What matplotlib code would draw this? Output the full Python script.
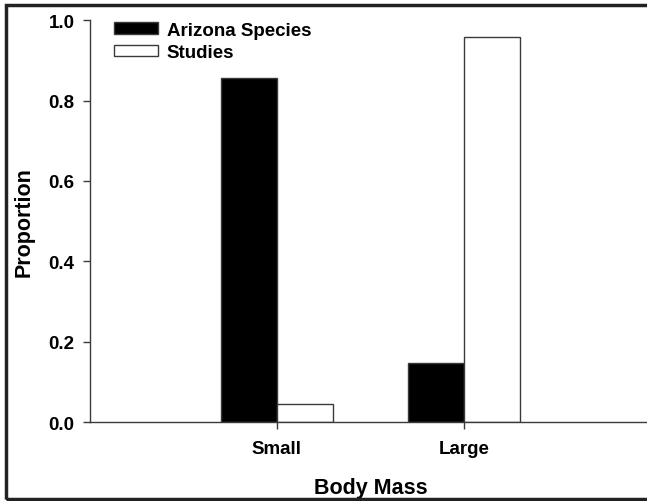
import matplotlib.pyplot as plt
from matplotlib.patches import Rectangle
import numpy as np

# data
categories = ["Small", "Large"]
arizona_species = [0.855, 0.147]
studies = [0.045, 0.957]
yticks = [0.0, 0.2, 0.4, 0.6, 0.8, 1.0]

plt.rcParams["font.family"] = ["Liberation Sans", "DejaVu Sans"]
plt.rcParams["font.weight"] = "bold"

fig = plt.figure(figsize=(6.47, 5.02), dpi=100)
ax = fig.add_axes([0.139, 0.157, 0.867, 0.801])

x = np.arange(1, len(categories) + 1)
width = 0.30
edge = "#3a3a3a"

ax.bar(x - width / 2, arizona_species, width, color="black",
       edgecolor=edge, linewidth=1, label="Arizona Species")
ax.bar(x + width / 2, studies, width, color="white",
       edgecolor=edge, linewidth=1, label="Studies")

ax.set_xlim(0, 3)
ax.set_ylim(0, 1.0)
ax.set_xticks(x)
ax.set_xticklabels(categories)
ax.set_yticks(yticks)
ax.set_yticklabels([f"{v:.1f}" for v in yticks])

for side in ("top", "right"):
    ax.spines[side].set_visible(False)
for side in ("left", "bottom"):
    ax.spines[side].set_color(edge)
    ax.spines[side].set_linewidth(1)

ax.tick_params(direction="out", length=5, width=1, color=edge,
               labelsize=13.5, pad=6)
ax.tick_params(axis="x", pad=8)

ax.set_xlabel("Body Mass", fontsize=15.5, fontweight="bold", labelpad=14)
ax.set_ylabel("Proportion", fontsize=15.5, fontweight="bold", labelpad=10)

ax.legend(loc="upper left", bbox_to_anchor=(0.012, 1.038), frameon=False,
          fontsize=13.5, handlelength=2.35, handleheight=0.55,
          handletextpad=0.5, labelspacing=0.3)

# dark frame round the whole figure (right side is cropped in the reference)
fig.patches.append(Rectangle((0.009, 0.004), 1.2, 0.984,
                             transform=fig.transFigure, fill=False,
                             edgecolor="#222222", linewidth=2.5,
                             clip_on=False))

fig.savefig("out.png", dpi=100)
